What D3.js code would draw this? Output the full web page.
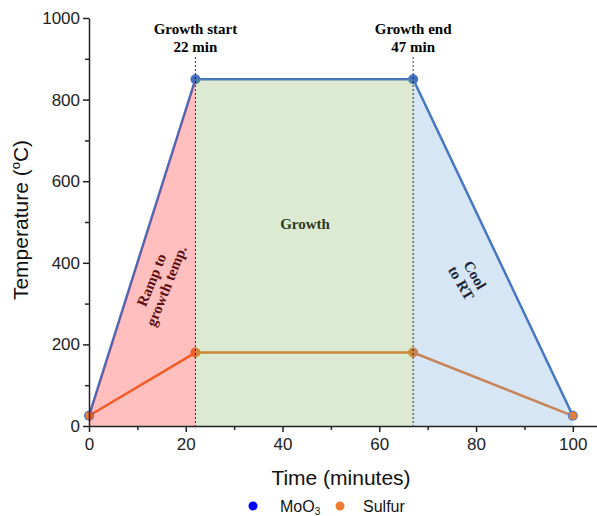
<!DOCTYPE html>
<html>
<head>
<meta charset="utf-8">
<script src="https://cdn.jsdelivr.net/npm/d3@7"></script>
<style>
  body { margin: 0; background: #fff; }
  svg { font-family: "Liberation Sans", Arial, sans-serif; }
</style>
</head>
<body>
<div id="chart"></div>
<script>
// Chart size
const width = 597;
const height = 516;
const margin = { top: 18, right: 0, bottom: 90, left: 89 };

// Data
const times = [0, 22, 67, 100];
const moo3Temps = [25, 850, 850, 25];
const sulfurTemps = [25, 180, 180, 25];
const xTicks = [0, 20, 40, 60, 80, 100];
const xMinor = [10, 30, 50, 70, 90];
const yTicks = [0, 200, 400, 600, 800, 1000];
const yMinor = [100, 300, 500, 700, 900];
const markerTimes = [22, 67];
const markerLabels = [["Growth start", "22 min"], ["Growth end", "47 min"]];
const seriesNames = ["MoO", "Sulfur"];

const svg = d3.select("#chart").append("svg")
  .attr("width", width)
  .attr("height", height);

const x = d3.scaleLinear().domain([0, 105]).range([margin.left, width - margin.right]);
const y = d3.scaleLinear().domain([0, 1000]).range([height - margin.bottom, margin.top]);

const moo3 = times.map((t, i) => [t, moo3Temps[i]]);
const sulfur = times.map((t, i) => [t, sulfurTemps[i]]);

const line = d3.line().x(d => x(d[0])).y(d => y(d[1]));
const area = d3.area().x(d => x(d[0])).y0(y(0)).y1(d => y(d[1]));

// Lines and points
svg.append("path").datum(moo3)
  .attr("d", line).attr("fill", "none")
  .attr("stroke", "#4472c4").attr("stroke-width", 2.5);
svg.append("path").datum(sulfur)
  .attr("d", line).attr("fill", "none")
  .attr("stroke", "#ed7d31").attr("stroke-width", 2.5);

svg.selectAll(".pt-moo3").data(moo3).enter().append("circle")
  .attr("cx", d => x(d[0])).attr("cy", d => y(d[1])).attr("r", 5)
  .attr("fill", "#4472c4");
svg.selectAll(".pt-s").data(sulfur).enter().append("circle")
  .attr("cx", d => x(d[0])).attr("cy", d => y(d[1]))
  .attr("r", (d, i) => (i === 0 || i === 3) ? 4 : 5)
  .attr("fill", "#ed7d31");

// Phase shading (translucent, over the lines)
const phases = [
  { pts: moo3.slice(0, 2), color: "#ff0000" },
  { pts: moo3.slice(1, 3), color: "#70ad47" },
  { pts: moo3.slice(2, 4), color: "#5b9bd5" }
];
svg.selectAll(".phase").data(phases).enter().append("path")
  .attr("d", d => area(d.pts))
  .attr("fill", d => d.color)
  .attr("fill-opacity", 0.25);

// Dashed markers
svg.selectAll(".vline").data(markerTimes).enter().append("line")
  .attr("x1", d => x(d)).attr("x2", d => x(d))
  .attr("y1", 57).attr("y2", y(0))
  .attr("stroke", "#000").attr("stroke-width", 0.8)
  .attr("stroke-dasharray", "2,2");

const serif = "'Liberation Serif', 'Times New Roman', serif";

markerLabels.forEach((lab, i) => {
  const t = svg.append("text")
    .attr("x", x(markerTimes[i])).attr("text-anchor", "middle")
    .style("font-family", serif)
    .style("font-weight", "bold").style("font-size", "15px");
  t.append("tspan").attr("x", x(markerTimes[i])).attr("y", 34).text(lab[0]);
  t.append("tspan").attr("x", x(markerTimes[i])).attr("y", 52).text(lab[1]);
});

// Phase labels
svg.append("text")
  .attr("x", 305).attr("y", 229).attr("text-anchor", "middle")
  .style("font-family", serif).style("font-weight", "bold").style("font-size", "15px")
  .attr("fill", "#2b3a1f").text("Growth");

const ramp = svg.append("text")
  .attr("transform", "translate(159,283) rotate(-68)")
  .attr("text-anchor", "middle")
  .style("font-family", serif).style("font-weight", "bold").style("font-size", "15px")
  .attr("fill", "#5c0f12");
ramp.append("tspan").attr("x", 0).attr("y", -3).text("Ramp to");
ramp.append("tspan").attr("x", 0).attr("y", 13).text("growth temp.");

const cool = svg.append("text")
  .attr("transform", "translate(468,279) rotate(60)")
  .attr("text-anchor", "middle")
  .style("font-family", serif).style("font-weight", "bold").style("font-size", "15px")
  .attr("fill", "#1b2535");
cool.append("tspan").attr("x", 0).attr("y", -3).text("Cool");
cool.append("tspan").attr("x", 0).attr("y", 13).text("to RT");

// Axes
const xAxis = svg.append("g")
  .attr("transform", `translate(0,${y(0)})`)
  .call(d3.axisBottom(x).tickValues(xTicks).tickSize(6).tickSizeOuter(0).tickFormat(d3.format("d")));
svg.append("g")
  .attr("transform", `translate(0,${y(0)})`)
  .call(d3.axisBottom(x).tickValues(xMinor).tickSize(4).tickFormat(""))
  .call(g => g.select(".domain").remove());

const yAxis = svg.append("g")
  .attr("transform", `translate(${margin.left},0)`)
  .call(d3.axisLeft(y).tickValues(yTicks).tickSize(6).tickSizeOuter(0).tickFormat(d3.format("d")));
svg.append("g")
  .attr("transform", `translate(${margin.left},0)`)
  .call(d3.axisLeft(y).tickValues(yMinor).tickSize(4).tickFormat(""))
  .call(g => g.select(".domain").remove());

[xAxis, yAxis].forEach(g => {
  g.selectAll("text").style("font-size", "17px").style("font-family", "'Liberation Sans', Arial, sans-serif")
    .attr("fill", "#222");
});
xAxis.selectAll("text").attr("dy", "1em").attr("y", 7);
yAxis.selectAll("text").attr("x", -9);
svg.selectAll(".domain, .tick line").attr("stroke", "#222").attr("stroke-width", 1.5);

// Axis titles
svg.append("text")
  .attr("x", 341).attr("y", 485).attr("text-anchor", "middle")
  .style("font-size", "21px").attr("fill", "#111").text("Time (minutes)");

const yt = svg.append("text")
  .attr("transform", `translate(28,${y(500) - 2}) rotate(-90)`)
  .attr("text-anchor", "middle")
  .style("font-size", "21px").attr("fill", "#111");
yt.append("tspan").text("Temperature (");
yt.append("tspan").attr("dy", -8).style("font-size", "13px").text("o");
yt.append("tspan").attr("dy", 8).text("C)");

// Legend
const legend = svg.append("g").attr("transform", "translate(0,506)");
const legendItems = [
  { name: seriesNames[0], color: "#0000ff", cx: 253, tx: 280 },
  { name: seriesNames[1], color: "#ed7d31", cx: 340, tx: 363 }
];
legendItems.forEach((d, i) => {
  legend.append("circle").attr("cx", d.cx).attr("cy", 0).attr("r", 4.5).attr("fill", d.color);
  const t = legend.append("text").attr("x", d.tx).attr("y", 6)
    .style("font-size", "16px").attr("fill", "#111").text(d.name);
  if (i === 0) {
    t.append("tspan").attr("dy", 3).style("font-size", "10px").text("3");
  }
});
</script>
</body>
</html>
